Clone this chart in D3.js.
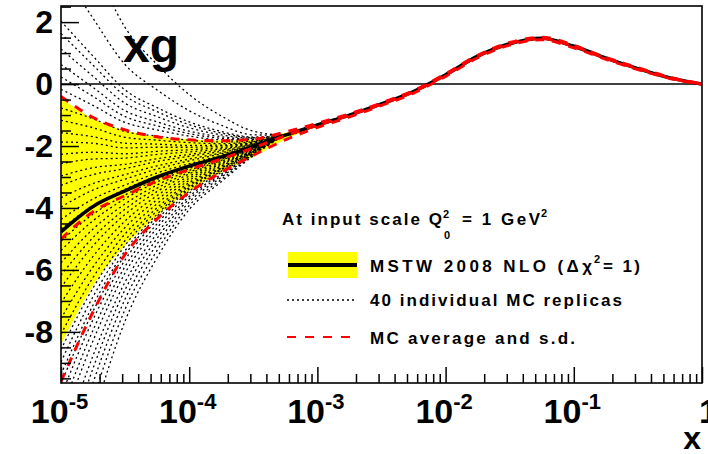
<!DOCTYPE html>
<html>
<head>
<meta charset="utf-8">
<script src="https://cdn.jsdelivr.net/npm/d3@7"></script>
<style>
  body { margin: 0; background: #fff; }
  svg text { font-family: "Liberation Sans", Arial, Helvetica, sans-serif; }
</style>
</head>
<body>
<svg id="chart" width="708" height="454"></svg>
<script>
// quarter-decade grid in x, 1e-5 .. 1
var xGrid = [1e-5, 1.78e-5, 3.16e-5, 5.62e-5, 1e-4, 1.78e-4, 3.16e-4, 5.62e-4, 1e-3, 1.78e-3, 3.16e-3,
  5.62e-3, 1e-2, 1.78e-2, 3.16e-2, 5.62e-2, 0.1, 0.178, 0.316, 0.562, 1];

// MSTW 2008 NLO central xg and its error band
var centralY = [-4.77, -3.95, -3.45, -3.0, -2.65, -2.35, -2.02, -1.65, -1.32, -1.0, -0.64,
  -0.24, 0.3, 0.9, 1.3, 1.48, 1.22, 0.84, 0.5, 0.2, 0.0];
var bandUpY = [-0.45, -1.12, -1.5, -1.7, -1.78, -1.82, -1.8, -1.57, -1.28, -0.96, -0.6,
  -0.2, 0.34, 0.94, 1.34, 1.52, 1.26, 0.87, 0.53, 0.22, 0.01];
var bandLowY = [-8.4, -6.5, -5.2, -4.25, -3.45, -2.85, -2.35, -1.78, -1.38, -1.04, -0.68,
  -0.28, 0.26, 0.86, 1.26, 1.44, 1.18, 0.81, 0.47, 0.18, -0.01];

// MC average and average +- s.d.
var mcMeanY = [-5.0, -4.12, -3.6, -3.13, -2.76, -2.42, -2.06, -1.67, -1.33, -1.01, -0.65,
  -0.25, 0.29, 0.89, 1.3, 1.47, 1.21, 0.83, 0.5, 0.2, 0.0];
var mcUpY = [-0.4, -1.08, -1.48, -1.7, -1.8, -1.83, -1.78, -1.55, -1.27, -0.96, -0.61,
  -0.21, 0.33, 0.93, 1.34, 1.51, 1.25, 0.86, 0.53, 0.22, 0.01];
var mcLowY = [-9.6, -7.35, -5.5, -4.35, -3.5, -2.85, -2.3, -1.8, -1.4, -1.06, -0.69,
  -0.29, 0.25, 0.85, 1.26, 1.43, 1.17, 0.8, 0.47, 0.18, -0.01];

// 40 replicas, first 7 grid points only; past that they sit on the central curve
var replicaY = [
  [6.23, 3.92, 1.83, 0.63, -0.34, -1.03, -1.52],
  [3.73, 2.12, 0.63, -0.19, -0.86, -1.33, -1.64],
  [2.03, 0.9, -0.19, -0.76, -1.22, -1.53, -1.71],
  [1.63, 0.61, -0.38, -0.89, -1.31, -1.58, -1.73],
  [1.13, 0.25, -0.62, -1.05, -1.41, -1.64, -1.75],
  [0.63, -0.11, -0.86, -1.22, -1.52, -1.7, -1.78],
  [0.23, -0.4, -1.05, -1.35, -1.6, -1.75, -1.79],
  [-0.17, -0.69, -1.24, -1.48, -1.68, -1.8, -1.81],
  [-0.77, -1.12, -1.53, -1.68, -1.81, -1.87, -1.84],
  [-1.17, -1.41, -1.72, -1.81, -1.89, -1.92, -1.86],
  [-1.57, -1.7, -1.91, -1.94, -1.98, -1.97, -1.88],
  [-1.87, -1.91, -2.06, -2.04, -2.04, -2.0, -1.89],
  [-2.27, -2.2, -2.25, -2.17, -2.12, -2.05, -1.91],
  [-2.57, -2.42, -2.39, -2.27, -2.19, -2.09, -1.92],
  [-2.97, -2.7, -2.59, -2.41, -2.27, -2.13, -1.94],
  [-3.27, -2.92, -2.73, -2.5, -2.33, -2.17, -1.95],
  [-3.67, -3.21, -2.92, -2.64, -2.42, -2.22, -1.97],
  [-3.97, -3.42, -3.07, -2.74, -2.48, -2.25, -1.98],
  [-4.37, -3.71, -3.26, -2.87, -2.57, -2.3, -2.0],
  [-4.67, -3.93, -3.4, -2.97, -2.63, -2.34, -2.02],
  [-5.07, -4.2, -3.58, -3.08, -2.69, -2.37, -2.03],
  [-5.37, -4.41, -3.7, -3.16, -2.73, -2.4, -2.04],
  [-5.77, -4.68, -3.87, -3.26, -2.79, -2.43, -2.05],
  [-6.17, -4.95, -4.04, -3.36, -2.85, -2.46, -2.06],
  [-6.57, -5.22, -4.21, -3.47, -2.9, -2.49, -2.07],
  [-7.07, -5.56, -4.42, -3.6, -2.97, -2.53, -2.09],
  [-7.57, -5.9, -4.63, -3.73, -3.04, -2.57, -2.1],
  [-8.07, -6.24, -4.84, -3.86, -3.11, -2.61, -2.12],
  [-8.57, -6.58, -5.05, -3.99, -3.18, -2.65, -2.13],
  [-8.97, -6.86, -5.21, -4.09, -3.24, -2.69, -2.15],
  [-9.37, -7.13, -5.38, -4.2, -3.29, -2.72, -2.16],
  [-9.67, -7.33, -5.51, -4.27, -3.34, -2.74, -2.17],
  [-10.07, -7.6, -5.68, -4.38, -3.39, -2.77, -2.18],
  [-10.57, -7.94, -5.89, -4.51, -3.46, -2.81, -2.19],
  [-11.07, -8.28, -6.1, -4.64, -3.53, -2.85, -2.21],
  [-11.77, -8.76, -6.39, -4.82, -3.63, -2.91, -2.23],
  [-12.37, -9.17, -6.64, -4.98, -3.71, -2.96, -2.25],
  [-13.07, -9.64, -6.94, -5.16, -3.81, -3.01, -2.27],
  [-13.87, -10.19, -7.27, -5.37, -3.92, -3.08, -2.29],
  [-14.77, -10.8, -7.65, -5.6, -4.05, -3.15, -2.32]
];

var yTickValues = [-8, -6, -4, -2, 0, 2];
var xTickExponents = [-5, -4, -3, -2, -1, 0];

function XgChart(svgId) {
  this.svg = d3.select(svgId);
  this.frame = { left: 61, right: 702, top: 6, bottom: 383 };
  this.xScale = d3.scaleLog().domain([1e-5, 1]).range([this.frame.left, this.frame.right]);
  this.yScale = d3.scaleLinear().domain([-9.65, 2.52]).range([this.frame.bottom, this.frame.top]);
}

XgChart.prototype.lineFor = function() {
  var that = this;
  return d3.line()
    .x(function(d, i) { return that.xScale(xGrid[i]); })
    .y(function(d) { return that.yScale(d); })
    .curve(d3.curveMonotoneX);
};

XgChart.prototype.drawCurves = function() {
  var that = this,
    f = this.frame,
    line = this.lineFor();

  this.svg.append('defs').append('clipPath')
    .attr('id', 'plot-clip')
    .append('rect')
    .attr('x', f.left)
    .attr('y', f.top)
    .attr('width', f.right - f.left)
    .attr('height', f.bottom - f.top);

  var g = this.svg.append('g').attr('clip-path', 'url(#plot-clip)');

  var band = d3.area()
    .x(function(d) { return that.xScale(xGrid[d]); })
    .y0(function(d) { return that.yScale(bandLowY[d]); })
    .y1(function(d) { return that.yScale(bandUpY[d]); })
    .curve(d3.curveMonotoneX);

  g.append('path')
    .attr('d', band(d3.range(xGrid.length)))
    .attr('fill', '#ffff00')
    .attr('stroke', 'none');

  // zero line
  g.append('line')
    .attr('x1', f.left)
    .attr('x2', f.right)
    .attr('y1', this.yScale(0))
    .attr('y2', this.yScale(0))
    .attr('stroke', '#000')
    .attr('stroke-width', 1.5);

  replicaY.forEach(function(r) {
    g.append('path')
      .attr('d', line(r.concat(centralY.slice(r.length))))
      .attr('fill', 'none')
      .attr('stroke', '#000')
      .attr('stroke-width', 1.3)
      .attr('stroke-dasharray', '2,3');
  });

  g.append('path')
    .attr('d', line(centralY))
    .attr('fill', 'none')
    .attr('stroke', '#000')
    .attr('stroke-width', 3.5);

  [mcUpY, mcMeanY, mcLowY].forEach(function(s) {
    g.append('path')
      .attr('d', line(s))
      .attr('fill', 'none')
      .attr('stroke', '#ff0000')
      .attr('stroke-width', 3)
      .attr('stroke-dasharray', '9,8');
  });
};

XgChart.prototype.drawAxes = function() {
  var f = this.frame,
    x = this.xScale,
    y = this.yScale;

  var yMinor = d3.range(-9.5, 2.51, 0.5).filter(function(v) { return v % 2 !== 0; });
  var xMajor = xTickExponents.map(function(e) { return Math.pow(10, e); });
  var xMinor = x.ticks().filter(function(v) { return Math.abs(Math.log10(v) - Math.round(Math.log10(v))) > 1e-6; });

  // minor ticks, no labels
  var ym = this.svg.append('g')
    .attr('transform', 'translate(' + f.left + ',0)')
    .call(d3.axisLeft(y).tickValues(yMinor).tickSize(-10).tickFormat(''));
  var xm = this.svg.append('g')
    .attr('transform', 'translate(0,' + f.bottom + ')')
    .call(d3.axisBottom(x).tickValues(xMinor).tickSize(-9).tickFormat(''));
  [ym, xm].forEach(function(a) {
    a.selectAll('.domain').remove();
    a.selectAll('.tick text').remove();
    a.selectAll('.tick line').attr('stroke-width', 1.5);
  });

  var yg = this.svg.append('g')
    .attr('transform', 'translate(' + f.left + ',0)')
    .call(d3.axisLeft(y).tickValues(yTickValues).tickSize(-18).tickPadding(8)
      .tickFormat(function(d) { return String(d); }));
  yg.selectAll('.domain').remove();
  yg.attr('font-size', 32).attr('font-weight', 'bold').attr('font-family', null);
  yg.selectAll('.tick line').attr('stroke-width', 1.5);
  yg.selectAll('.tick text').attr('fill', '#000');

  var xg = this.svg.append('g')
    .attr('transform', 'translate(0,' + f.bottom + ')')
    .call(d3.axisBottom(x).tickValues(xMajor).tickSize(-16).tickPadding(16).tickFormat(''));
  xg.selectAll('.domain').remove();
  xg.attr('font-size', 34).attr('font-weight', 'bold').attr('font-family', null);
  xg.selectAll('.tick line').attr('stroke-width', 1.5);

  xg.selectAll('.tick text').each(function(d) {
    var t = d3.select(this),
      e = Math.round(Math.log10(d));
    t.attr('fill', '#000');
    if (e === 0) {
      t.text('1').attr('dx', 6);
    } else {
      t.attr('dx', -2);
      t.append('tspan').text('10');
      t.append('tspan').attr('dy', -14).attr('font-size', 22).text(String(e));
    }
  });

  // frame
  this.svg.append('rect')
    .attr('x', f.left)
    .attr('y', f.top)
    .attr('width', f.right - f.left)
    .attr('height', f.bottom - f.top)
    .attr('fill', 'none')
    .attr('stroke', '#000')
    .attr('stroke-width', 1.6);
};

XgChart.prototype.drawLabels = function() {
  var s = this.svg;

  s.append('text')
    .attr('x', 123)
    .attr('y', 62)
    .attr('font-size', 48)
    .attr('font-weight', 'bold')
    .text('xg');

  s.append('text')
    .attr('x', 701)
    .attr('y', 449)
    .attr('text-anchor', 'end')
    .attr('font-size', 32)
    .attr('font-weight', 'bold')
    .text('x');
};

XgChart.prototype.drawLegend = function() {
  var s = this.svg,
    fs = 17;

  var lg = s.append('g').attr('font-weight', 'bold').attr('font-size', fs);

  lg.append('text').attr('x', 282).attr('y', 225)
    .attr('textLength', 160).attr('lengthAdjust', 'spacing').text('At input scale Q');
  lg.append('text').attr('x', 443).attr('y', 218).attr('font-size', 11).text('2');
  lg.append('text').attr('x', 444).attr('y', 239).attr('font-size', 11).text('0');
  lg.append('text').attr('x', 462).attr('y', 225)
    .attr('textLength', 78).attr('lengthAdjust', 'spacing').text('= 1 GeV');
  lg.append('text').attr('x', 541).attr('y', 217).attr('font-size', 11).text('2');

  lg.append('rect')
    .attr('x', 288)
    .attr('y', 252)
    .attr('width', 69)
    .attr('height', 26)
    .attr('fill', '#ffff00');
  lg.append('line')
    .attr('x1', 288).attr('x2', 357)
    .attr('y1', 265).attr('y2', 265)
    .attr('stroke', '#000')
    .attr('stroke-width', 4);

  lg.append('text').attr('x', 370).attr('y', 272)
    .attr('textLength', 222).attr('lengthAdjust', 'spacing').text('MSTW 2008 NLO (\u0394\u03c7');
  lg.append('text').attr('x', 594).attr('y', 263).attr('font-size', 11).text('2');
  lg.append('text').attr('x', 603).attr('y', 272)
    .attr('textLength', 37).attr('lengthAdjust', 'spacing').text('= 1)');

  lg.append('line')
    .attr('x1', 287).attr('x2', 356)
    .attr('y1', 300).attr('y2', 300)
    .attr('stroke', '#000')
    .attr('stroke-width', 1.3)
    .attr('stroke-dasharray', '2,3');
  lg.append('text').attr('x', 370).attr('y', 306)
    .attr('textLength', 252).attr('lengthAdjust', 'spacing')
    .text('40 individual MC replicas');

  lg.append('line')
    .attr('x1', 287).attr('x2', 356)
    .attr('y1', 337).attr('y2', 337)
    .attr('stroke', '#ff0000')
    .attr('stroke-width', 2)
    .attr('stroke-dasharray', '9,9');
  lg.append('text').attr('x', 370).attr('y', 344)
    .attr('textLength', 205).attr('lengthAdjust', 'spacing')
    .text('MC average and s.d.');
};

var chart = new XgChart('#chart');
chart.drawCurves();
chart.drawAxes();
chart.drawLabels();
chart.drawLegend();
</script>
</body>
</html>
